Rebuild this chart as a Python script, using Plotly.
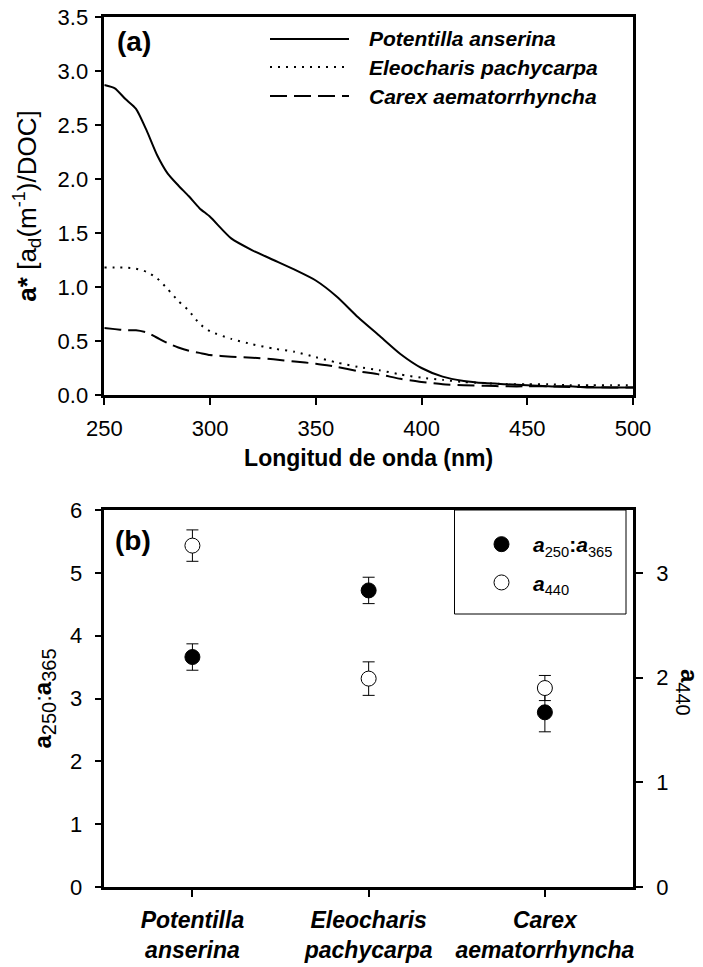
import plotly.graph_objects as go

# ---------------- data ----------------
wavelength = [250, 255, 260, 265, 270, 275, 280, 285, 290, 295, 300, 310, 320, 330, 340, 350,
              360, 370, 380, 390, 400, 410, 420, 430, 440, 450, 460, 470, 480, 490, 500]
potentilla = [2.87, 2.84, 2.74, 2.65, 2.45, 2.22, 2.05, 1.94, 1.84, 1.73, 1.65, 1.45, 1.34, 1.25, 1.16, 1.06,
              0.91, 0.72, 0.55, 0.38, 0.25, 0.17, 0.13, 0.11, 0.10, 0.09, 0.08, 0.08, 0.07, 0.07, 0.07]
eleocharis = [1.18, 1.18, 1.18, 1.17, 1.14, 1.08, 0.98, 0.87, 0.78, 0.66, 0.59, 0.52, 0.47, 0.43, 0.40, 0.35,
              0.30, 0.26, 0.23, 0.19, 0.16, 0.14, 0.12, 0.11, 0.10, 0.10, 0.10, 0.09, 0.09, 0.09, 0.09]
carex = [0.62, 0.61, 0.60, 0.60, 0.58, 0.53, 0.48, 0.44, 0.41, 0.39, 0.37, 0.355, 0.345, 0.33, 0.31, 0.29,
         0.26, 0.22, 0.19, 0.15, 0.12, 0.10, 0.09, 0.085, 0.08, 0.08, 0.08, 0.075, 0.075, 0.07, 0.07]
series_names = ["Potentilla anserina", "Eleocharis pachycarpa", "Carex aematorrhyncha"]

species = ["Potentilla<br>anserina", "Eleocharis<br>pachycarpa", "Carex<br>aematorrhyncha"]
ratio_250_365 = [3.66, 4.72, 2.78]
ratio_err = [0.21, 0.21, 0.31]
a440 = [3.26, 1.99, 1.90]
a440_err = [0.15, 0.16, 0.12]

top_xticks = [250, 300, 350, 400, 450, 500]
top_yticks = [0.0, 0.5, 1.0, 1.5, 2.0, 2.5, 3.0, 3.5]
left_ticks_b = [0, 1, 2, 3, 4, 5, 6]
right_ticks_b = [0, 1, 2, 3]

# ---------------- layout helpers ----------------
# The page body has an 8px default margin, so the figure is sized to fit the
# 703x967 window exactly; page coordinates are converted to paper fractions.
PAGE_OFF = 8
W, H = 703 - PAGE_OFF, 967 - PAGE_OFF
FONT = "Liberation Sans, Arial, sans-serif"


def px_x(x):
    return (x - PAGE_OFF) / W


def px_y(y):
    return 1 - (y - PAGE_OFF) / H


dom_x = [px_x(104.3), px_x(633)]
dom_ya = [px_y(395), px_y(17)]
dom_yb = [px_y(887), px_y(510)]

fig = go.Figure()

dashes = ["solid", "2px,6px", "17px,7px"]
for name, vals, d in zip(series_names, [potentilla, eleocharis, carex], dashes):
    fig.add_trace(go.Scatter(x=wavelength, y=vals, mode="lines", name=name,
                             line=dict(color="black", width=2, dash=d, shape="spline", smoothing=0.6),
                             xaxis="x", yaxis="y", showlegend=False))

fig.add_trace(go.Scatter(
    x=species, y=ratio_250_365, mode="markers", xaxis="x2", yaxis="y2",
    name="<b><i>a</i></b><sub>250</sub><b>:</b><b><i>a</i></b><sub>365</sub>",
    marker=dict(symbol="circle", size=15, color="black", line=dict(color="black", width=1)),
    error_y=dict(type="data", array=ratio_err, color="black", thickness=1, width=6),
    legendgroup="g1", showlegend=True))
fig.add_trace(go.Scatter(
    x=species, y=a440, mode="markers", xaxis="x2", yaxis="y3",
    name="<b><i>a</i></b><sub>440</sub>",
    marker=dict(symbol="circle", size=15, color="white", line=dict(color="black", width=1)),
    error_y=dict(type="data", array=a440_err, color="black", thickness=1, width=6),
    legendgroup="g2", showlegend=True))

axis_common = dict(showline=True, linecolor="black", linewidth=2.5, ticks="outside", ticklen=7,
                   tickwidth=2, tickcolor="black", showgrid=False, zeroline=False, automargin=False,
                   ticklabeloverflow="allow",
                   tickfont=dict(family=FONT, size=22, color="black"))

shapes = []
annotations = []

# top-panel legend (manual samples)
leg_y = [39, 67, 96]
for name, d, yy in zip(series_names, dashes, leg_y):
    shapes.append(dict(type="line", xref="paper", yref="paper", x0=px_x(270), x1=px_x(349),
                       y0=px_y(yy), y1=px_y(yy), line=dict(color="black", width=2, dash=d)))
    annotations.append(dict(xref="paper", yref="paper", x=px_x(367), y=px_y(yy), xanchor="left",
                            yanchor="middle", showarrow=False, text=name,
                            font=dict(family=FONT, size=21, color="black", weight="bold", style="italic")))

# bottom legend box
shapes.append(dict(type="rect", xref="paper", yref="paper", x0=px_x(454.5), x1=px_x(626),
                   y0=px_y(614), y1=px_y(510), line=dict(color="black", width=1), fillcolor="rgba(0,0,0,0)"))

# panel labels
annotations.append(dict(xref="paper", yref="paper", x=px_x(115), y=px_y(42), xanchor="left", yanchor="middle",
                        showarrow=False, text="<b>(a)</b>", font=dict(family=FONT, size=28, color="black")))
annotations.append(dict(xref="paper", yref="paper", x=px_x(113), y=px_y(540), xanchor="left", yanchor="middle",
                        showarrow=False, text="<b>(b)</b>", font=dict(family=FONT, size=28, color="black")))
# right-axis title (reads top to bottom)
annotations.append(dict(xref="paper", yref="paper", x=px_x(688), y=px_y(692), xanchor="center", yanchor="middle",
                        showarrow=False, textangle=90,
                        text="<b>a</b><sub><span style='font-size:20px'>440</span></sub>",
                        font=dict(family=FONT, size=24, color="black")))

fig.update_layout(
    width=W, height=H, margin=dict(l=0, r=0, t=0, b=0),
    paper_bgcolor="white", plot_bgcolor="white",
    font=dict(family=FONT, color="black"),
    xaxis=dict(axis_common, domain=dom_x, anchor="y", range=[250, 500], tickvals=top_xticks,
               mirror=True, ticklabelstandoff=5,
               title=dict(text="<b>Longitud de onda (nm)</b>", font=dict(family=FONT, size=23), standoff=10)),
    yaxis=dict(axis_common, domain=dom_ya, anchor="x", range=[0, 3.5], tickvals=top_yticks,
               tickformat=".1f", mirror=True, ticklabelstandoff=2,
               title=dict(text="<b>a*</b> [a<sub><span style='font-size:19px'>d</span></sub>"
                               "(m<sup><span style='font-size:18px'>-1</span></sup>)/DOC]",
                          font=dict(family=FONT, size=26), standoff=14)),
    xaxis2=dict(axis_common, domain=dom_x, anchor="y2", type="category", range=[-0.5, 2.5],
                mirror=True, ticklabelstandoff=4,
                tickfont=dict(family=FONT, size=23, color="black", weight="bold", style="italic")),
    yaxis2=dict(axis_common, domain=dom_yb, anchor="x2", range=[0, 6], tickvals=left_ticks_b,
                ticklabelstandoff=8,
                title=dict(text="<b>a</b><sub><span style='font-size:20px'>250</span></sub>:"
                                "<b>a</b><sub><span style='font-size:20px'>365</span></sub>",
                           font=dict(family=FONT, size=24), standoff=12)),
    yaxis3=dict(axis_common, domain=dom_yb, anchor="x2", overlaying="y2", side="right",
                range=[0, 3.6], tickvals=right_ticks_b, ticklabelstandoff=9),
    legend=dict(x=px_x(470), y=px_y(524), xanchor="left", yanchor="top", bgcolor="rgba(0,0,0,0)",
                borderwidth=0, font=dict(family=FONT, size=21, color="black"),
                tracegroupgap=8, itemwidth=53),
    shapes=shapes, annotations=annotations,
)

fig.write_html("out.html")
